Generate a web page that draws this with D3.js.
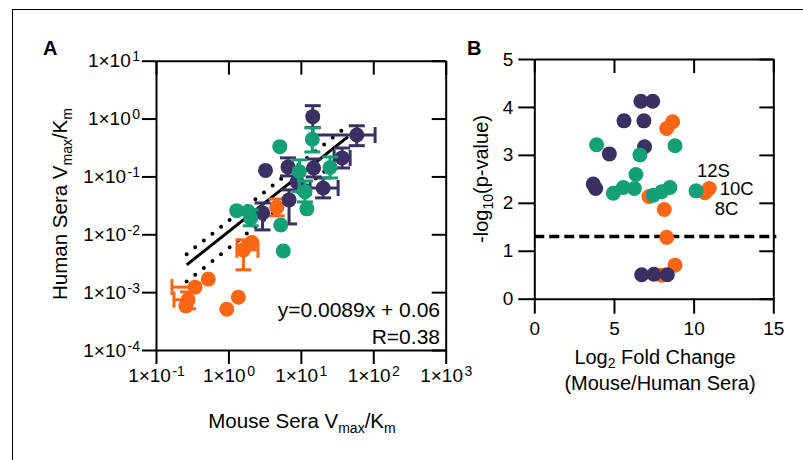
<!DOCTYPE html>
<html><head><meta charset="utf-8">
<script src="https://cdn.jsdelivr.net/npm/d3@7"></script>
<style>
body{margin:0;background:#fff}
svg{display:block}
text{font-family:"Liberation Sans",Arial,sans-serif;fill:#000}
</style>
</head><body>
<svg id="c" width="803" height="460"></svg>
<script>
// ---------- Panel A data (Vmax/Km, mouse vs human sera) ----------
const navyAX   = [14.6, 59.2, 37.1, 3.25, 6.65, 15.0, 20.3, 2.96, 6.87, 8.85];
const navyAY   = [1.08, 0.52, 0.209, 0.127, 0.146, 0.140, 0.063, 0.0234, 0.0393, 0.080];
const navyAXLo = [null, 14.7, 28.8, null, null, null, 13.4, null, null, null];
const navyAXHi = [null, 106, 47.9, null, null, null, 32.7, null, null, null];
const navyAYLo = [0.70, 0.34, 0.140, null, 0.102, 0.098, 0.0426, 0.0119, 0.0151, null];
const navyAYHi = [1.67, 0.75, 0.31, null, 0.209, 0.200, 0.094, 0.0348, 0.0585, null];

const greenAX   = [14.4, 5.12, 9.53, 25.3, 11.4, 12.1, 5.28, 5.73, 1.30, 1.88, 2.03];
const greenAY   = [0.439, 0.327, 0.121, 0.143, 0.0546, 0.0275, 0.0145, 0.00516, 0.0256, 0.0247, 0.0190];
const greenAXLo = [null, null, null, null, null, null, null, null, null, null, null];
const greenAXHi = [null, null, null, null, null, null, null, null, null, null, null];
const greenAYLo = [0.265, null, 0.0546, 0.094, 0.0363, null, null, null, null, null, 0.014];
const greenAYHi = [0.69, null, 0.193, 0.217, 0.0836, null, null, null, null, null, 0.0264];

const orangeAX   = [4.65, 2.10, 1.61, 0.527, 0.346, 0.277, 1.37, 0.948, 0.259];
const orangeAY   = [0.0292, 0.0072, 0.00538, 0.00168, 0.00122, 0.00074, 0.00082, 0.000508, 0.00058];
const orangeAXLo = [null, null, 1.31, null, 0.166, 0.177, null, null, null];
const orangeAXHi = [null, null, 2.56, null, null, null, null, null, null];
const orangeAYLo = [0.0208, null, 0.00243, null, null, 0.000515, null, null, null];
const orangeAYHi = [0.0408, null, 0.0080, null, null, 0.00101, null, null, null];

const fitX      = [0.265, 44.9];
const fitY      = [0.00296, 0.486];
const bandUpY   = [0.00452, 0.766];
const bandLoY   = [0.00152, 0.258];
const equationText = "y=0.0089x + 0.06";
const rText = "R=0.38";

const xTicksA = [0.1, 1, 10, 100, 1000];
const yTicksA = [1e-4, 1e-3, 1e-2, 1e-1, 1, 10];

// ---------- Panel B data (volcano) ----------
const navyBX   = [6.69, 7.43, 5.63, 6.88, 6.92, 4.71, 3.70, 3.85, 6.74, 7.51, 8.35];
const navyBY   = [4.12, 4.12, 3.71, 3.71, 3.17, 3.02, 2.39, 2.30, 0.50, 0.51, 0.50];
const greenBX  = [3.91, 6.63, 8.83, 6.38, 4.96, 5.59, 6.28, 7.47, 7.99, 8.51, 10.15];
const greenBY  = [3.21, 3.00, 3.19, 2.59, 2.20, 2.32, 2.30, 2.16, 2.23, 2.32, 2.25];
const orangeBX = [8.31, 8.68, 7.20, 8.16, 8.31, 8.83, 7.99, 10.98, 10.71];
const orangeBY = [3.55, 3.69, 2.13, 1.86, 1.28, 0.70, 0.49, 2.30, 2.21];

const annotText = ["12S", "10C", "8C"];
const annotX    = [10.21, 11.64, 11.33];
const annotY    = [2.53, 2.16, 1.74];
const sigThreshold = 1.3;

const xTicksB = [0, 5, 10, 15];
const yTicksB = [0, 1, 2, 3, 4, 5];

// ---------- styles ----------
const NAVY = "#3b3063", GREEN = "#14a077", ORANGE = "#fc6514";
const R = 7.5, FS = 19;

const svg = d3.select("#c");
svg.append("rect").attr("x", 12.5).attr("y", 9.5).attr("width", 1000).attr("height", 1000)
  .attr("fill", "none").attr("stroke", "#000").attr("stroke-width", 1);

// ---------- Panel A ----------
const xA = d3.scaleLog().domain([0.1, 1000]).range([156, 445.7]);
const yA = d3.scaleLog().domain([1e-4, 10]).range([350, 60.7]);

function styleAxis(g) {
  g.attr("font-family", null).attr("font-size", null);
  g.select(".domain").attr("stroke-width", 2).attr("stroke", "#000");
  g.selectAll(".tick line").attr("stroke-width", 2).attr("stroke", "#000");
  g.selectAll(".tick text").attr("font-size", FS).attr("fill", "#000");
}
function sciLabels(g) {
  g.selectAll(".tick text").each(function(d) {
    const t = d3.select(this);
    const e = Math.round(Math.log10(d));
    t.text("1×10");
    t.append("tspan").attr("font-size", 14).attr("dx", 1.5).attr("dy", -6).text(String(e));
  });
}

// mirror frame (top/right)
svg.append("g").attr("transform", `translate(0,${yA.range()[1]})`)
  .call(d3.axisTop(xA).tickValues(xTicksA).tickSize(-14).tickSizeOuter(0).tickFormat(""))
  .call(styleAxis);
svg.append("g").attr("transform", `translate(${xA.range()[1]},0)`)
  .call(d3.axisRight(yA).tickValues(yTicksA).tickSize(-14).tickSizeOuter(0).tickFormat(""))
  .call(styleAxis);

svg.append("g").attr("transform", `translate(0,${yA.range()[0]})`)
  .call(d3.axisBottom(xA).tickValues(xTicksA).tickSize(14).tickPadding(5).tickSizeOuter(0))
  .call(styleAxis).call(sciLabels);
svg.append("g").attr("transform", `translate(${xA.range()[0]},0)`)
  .call(d3.axisLeft(yA).tickValues(yTicksA).tickSize(14).tickPadding(2).tickSizeOuter(0))
  .call(styleAxis).call(sciLabels);

// regression line & confidence bands
const line = d3.line().x(d => xA(d[0])).y(d => yA(d[1]));
svg.append("path").attr("d", line(d3.zip(fitX, bandUpY))).attr("fill", "none")
  .attr("stroke", "#000").attr("stroke-width", 4).attr("stroke-linecap", "round").attr("stroke-dasharray", "0,11");
svg.append("path").attr("d", line(d3.zip(fitX, bandLoY))).attr("fill", "none")
  .attr("stroke", "#000").attr("stroke-width", 4).attr("stroke-linecap", "round").attr("stroke-dasharray", "0,11");
svg.append("path").attr("d", line(d3.zip(fitX, fitY))).attr("fill", "none")
  .attr("stroke", "#000").attr("stroke-width", 3);

function seriesA(xs, ys, xlo, xhi, ylo, yhi, color) {
  const g = svg.append("g");
  const cap = 8;
  xs.forEach((x, i) => {
    const px = xA(x), py = yA(ys[i]);
    const seg = (x1, y1, x2, y2) => g.append("line").attr("x1", x1).attr("y1", y1).attr("x2", x2).attr("y2", y2)
      .attr("stroke", color).attr("stroke-width", 3);
    if (ylo[i] != null) { const q = yA(ylo[i]); seg(px, py, px, q); seg(px - cap, q, px + cap, q); }
    if (yhi[i] != null) { const q = yA(yhi[i]); seg(px, py, px, q); seg(px - cap, q, px + cap, q); }
    if (xlo[i] != null) { const q = xA(xlo[i]); seg(px, py, q, py); seg(q, py - cap, q, py + cap); }
    if (xhi[i] != null) { const q = xA(xhi[i]); seg(px, py, q, py); seg(q, py - cap, q, py + cap); }
    g.append("circle").attr("cx", px).attr("cy", py).attr("r", R).attr("fill", color);
  });
}
seriesA(orangeAX, orangeAY, orangeAXLo, orangeAXHi, orangeAYLo, orangeAYHi, ORANGE);
seriesA(navyAX, navyAY, navyAXLo, navyAXHi, navyAYLo, navyAYHi, NAVY);
seriesA(greenAX, greenAY, greenAXLo, greenAXHi, greenAYLo, greenAYHi, GREEN);

svg.append("text").attr("x", 440).attr("y", 317).attr("text-anchor", "end").attr("font-size", 21).text(equationText);
svg.append("text").attr("x", 440).attr("y", 344).attr("text-anchor", "end").attr("font-size", 21).text(rText);

// titles A
function vmaxTitle(t, prefix) {
  t.text(prefix + "V");
  t.append("tspan").attr("font-size", 14).attr("dy", 5).text("max");
  t.append("tspan").attr("dy", -5).text("/K");
  t.append("tspan").attr("font-size", 14).attr("dy", 5).text("m");
}
svg.append("text").attr("x", 302).attr("y", 428).attr("text-anchor", "middle").attr("font-size", 20.5)
  .call(vmaxTitle, "Mouse Sera ");
svg.append("text").attr("transform", "translate(67,204) rotate(-90)").attr("text-anchor", "middle").attr("font-size", 20.5)
  .call(vmaxTitle, "Human Sera ");
svg.append("text").attr("x", 43).attr("y", 55).attr("font-size", 20).attr("font-weight", "bold").text("A");

// ---------- Panel B ----------
const xB = d3.scaleLinear().domain([0, 15]).range([534.3, 773.3]);
const yB = d3.scaleLinear().domain([0, 5]).range([298.7, 59]);

svg.append("g").attr("transform", `translate(0,${yB.range()[1]})`)
  .call(d3.axisTop(xB).tickValues(xTicksB).tickSize(-14).tickSizeOuter(0).tickFormat(""))
  .call(styleAxis);
svg.append("g").attr("transform", `translate(${xB.range()[1]},0)`)
  .call(d3.axisRight(yB).tickValues(yTicksB).tickSize(-14).tickSizeOuter(0).tickFormat(""))
  .call(styleAxis);
svg.append("g").attr("transform", `translate(0,${yB.range()[0]})`)
  .call(d3.axisBottom(xB).tickValues(xTicksB).tickSize(15).tickPadding(8).tickSizeOuter(0).tickFormat(d3.format("d")))
  .call(styleAxis);
svg.append("g").attr("transform", `translate(${xB.range()[0]},0)`)
  .call(d3.axisLeft(yB).tickValues(yTicksB).tickSize(16).tickPadding(5).tickSizeOuter(0).tickFormat(d3.format("d")))
  .call(styleAxis);

svg.append("line").attr("x1", xB(0)).attr("x2", xB(15) + 3).attr("y1", yB(sigThreshold)).attr("y2", yB(sigThreshold))
  .attr("stroke", "#000").attr("stroke-width", 3.5).attr("stroke-dasharray", "10,5");

function seriesB(xs, ys, color) {
  svg.append("g").selectAll("circle").data(d3.zip(xs, ys)).join("circle")
    .attr("cx", d => xB(d[0])).attr("cy", d => yB(d[1])).attr("r", R).attr("fill", color);
}
seriesB(orangeBX, orangeBY, ORANGE);
seriesB(navyBX, navyBY, NAVY);
seriesB(greenBX, greenBY, GREEN);

svg.append("g").selectAll("text").data(annotText).join("text")
  .attr("x", (d, i) => xB(annotX[i])).attr("y", (d, i) => yB(annotY[i])).attr("font-size", 18.5).text(d => d);

// titles B
const tb = svg.append("text").attr("x", 655).attr("y", 364).attr("text-anchor", "middle").attr("font-size", 20);
tb.text("Log");
tb.append("tspan").attr("font-size", 14).attr("dy", 4).text("2");
tb.append("tspan").attr("dy", -4).text(" Fold Change");
svg.append("text").attr("x", 660).attr("y", 390).attr("text-anchor", "middle").attr("font-size", 20).text("(Mouse/Human Sera)");
const ty = svg.append("text").attr("transform", "translate(488,179) rotate(-90)").attr("text-anchor", "middle").attr("font-size", 20);
ty.text("-log");
ty.append("tspan").attr("font-size", 14).attr("dy", 5).text("10");
ty.append("tspan").attr("dy", -5).text("(p-value)");
svg.append("text").attr("x", 467).attr("y", 55).attr("font-size", 20).attr("font-weight", "bold").text("B");
</script>
</body></html>
